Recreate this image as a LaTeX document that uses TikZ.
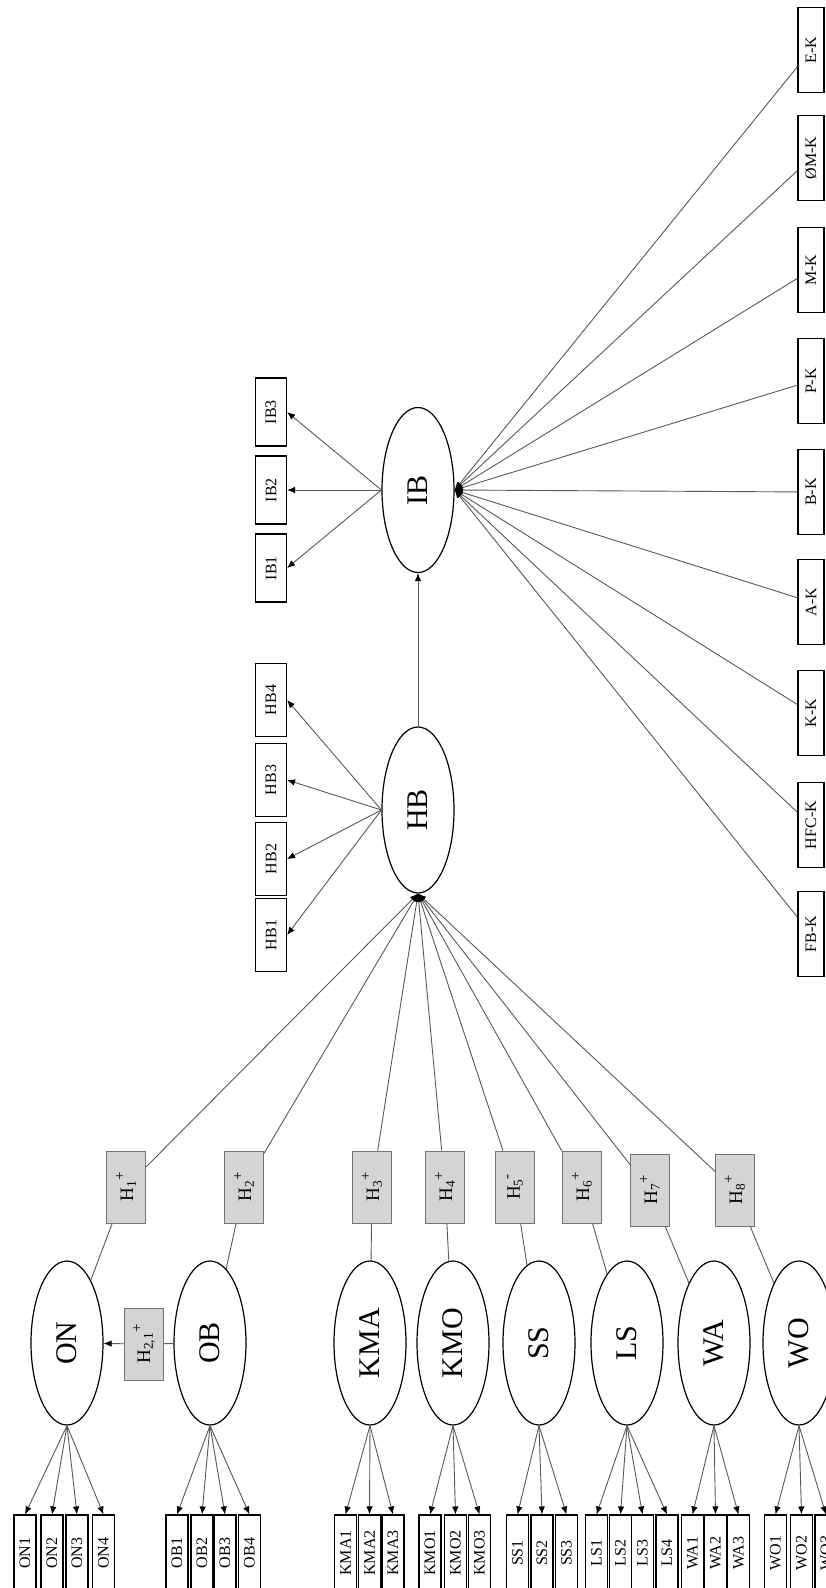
\documentclass[tikz,border=0pt]{standalone}
\usepackage{fontspec}
\setmainfont{Liberation Serif}
\usepackage{graphicx}
\usetikzlibrary{shapes.geometric,arrows.meta}
\newcommand{\rtx}[1]{\rotatebox{90}{#1}}
\newcommand{\hlab}[2]{\rotatebox{90}{H\textsubscript{#1}\raisebox{0.45em}{\fontsize{15}{18}\selectfont #2}}}
\begin{document}
\begin{tikzpicture}[x=1pt,y=-1pt,
  lat/.style={ellipse, draw=black, line width=1.2pt, minimum width=72pt, minimum height=164pt, inner sep=0pt, font=\fontsize{30}{36}\selectfont},
  ind/.style={rectangle, draw=black, line width=1.1pt, fill=white, minimum width=22pt, minimum height=76pt, inner sep=0pt, font=\fontsize{16}{19}\selectfont},
  hbind/.style={ind, minimum width=31pt, minimum height=73pt},
  ibind/.style={ind, minimum width=31pt, minimum height=68pt},
  kbox/.style={ind, minimum width=26pt, minimum height=85pt},
  hyp/.style={rectangle, draw=black!55, line width=0.8pt, fill=black!17, minimum width=39pt, minimum height=72pt, inner sep=0pt, font=\fontsize{19}{22}\selectfont},
  conn/.style={draw=black!65, line width=0.9pt},
  arr/.style={conn, -{Latex[length=8pt,width=6.5pt,black]}}
]
\useasboundingbox (0,0) rectangle (826,1588);
\fill[white] (0,0) rectangle (826,1588);

% latent variables
\foreach \n/\x in {ON/67,OB/210,KMA/370,KMO/453,SS/539,LS/627,WA/714,WO/799}
  \node[lat] (\n) at (\x,1343) {\rtx{\n}};
\node[lat, minimum height=166pt] (HB) at (418,810) {\rtx{HB}};
\node[lat, minimum height=165pt] (IB) at (418,490) {\rtx{IB}};

% indicators (bottom)
\foreach \n/\x in {ON1/25,ON2/52,ON3/77,ON4/103.5,OB1/177,OB2/202,OB3/225,OB4/249.5,
  KMA1/345.5,KMA2/369.5,KMA3/393,KMO1/430,KMO2/455.5,KMO3/479.5,
  SS1/517.5,SS2/542,SS3/566.5,LS1/596.5,LS2/620.5,LS3/642.5,LS4/667,
  WA1/692.5,WA2/715.5,WA3/738.5,WO1/775.5,WO2/801.5,WO3/826}
  \node[ind] (\n) at (\x,1553) {\rtx{\n}};

% HB and IB indicators
\foreach \n/\y in {HB1/935,HB2/859,HB3/780,HB4/700}
  \node[hbind] (\n) at (271,\y) {\rtx{\n}};
\foreach \n/\y in {IB1/568,IB2/490,IB3/412}
  \node[ibind] (\n) at (271,\y) {\rtx{\n}};

% control boxes
\node[kbox] (K1) at (811,50) {\rtx{E-K}};
\node[kbox] (K2) at (811,158) {\rtx{ØM-K}};
\node[kbox] (K3) at (811,270) {\rtx{M-K}};
\node[kbox] (K4) at (811,381) {\rtx{P-K}};
\node[kbox] (K5) at (811,492) {\rtx{B-K}};
\node[kbox] (K6) at (811,602) {\rtx{A-K}};
\node[kbox] (K7) at (811,713) {\rtx{K-K}};
\node[kbox] (K8) at (811,825) {\rtx{HFC-K}};
\node[kbox] (K9) at (811,934) {\rtx{FB-K}};

% hypothesis boxes
\node[hyp] (H1) at (126,1187) {\hlab{1}{+}};
\node[hyp] (H2) at (244,1187) {\hlab{2}{+}};
\node[hyp] (H3) at (372,1187) {\hlab{3}{+}};
\node[hyp] (H4) at (445,1187) {\hlab{4}{+}};
\node[hyp] (H5) at (515,1187) {\hlab{5}{-}};
\node[hyp] (H6) at (582,1187) {\hlab{6}{+}};
\node[hyp] (H7) at (650,1190) {\hlab{7}{+}};
\node[hyp] (H8) at (735,1190) {\hlab{8}{+}};
\node[hyp] (H21) at (144,1344) {\hlab{2,1}{+}};

% latent -> indicators
\foreach \l/\i in {ON/ON1,ON/ON2,ON/ON3,ON/ON4,OB/OB1,OB/OB2,OB/OB3,OB/OB4,
  KMA/KMA1,KMA/KMA2,KMA/KMA3,KMO/KMO1,KMO/KMO2,KMO/KMO3,
  SS/SS1,SS/SS2,SS/SS3,LS/LS1,LS/LS2,LS/LS3,LS/LS4,
  WA/WA1,WA/WA2,WA/WA3,WO/WO1,WO/WO2,WO/WO3}
  \draw[arr] (\l.south) -- (\i.north);
\foreach \i in {HB1,HB2,HB3,HB4}
  \draw[arr] (HB.west) -- (\i.east);
\foreach \i in {IB1,IB2,IB3}
  \draw[arr] (IB.west) -- (\i.east);

% structural paths
\foreach \l/\h in {ON/H1,OB/H2,KMA/H3,KMO/H4,SS/H5,LS/H6,WA/H7,WO/H8}{
  \draw[conn] (\l) -- (\h);
  \draw[arr] (\h) -- (HB.south);
}
\draw[conn] (OB) -- (H21);
\draw[arr] (H21) -- (ON);
\draw[arr] (HB.north) -- (IB.south);

% controls
\foreach \k in {K1,K2,K3,K4,K5,K6,K7,K8,K9}
  \draw[arr] (\k) -- (IB.east);
\end{tikzpicture}
\end{document}
